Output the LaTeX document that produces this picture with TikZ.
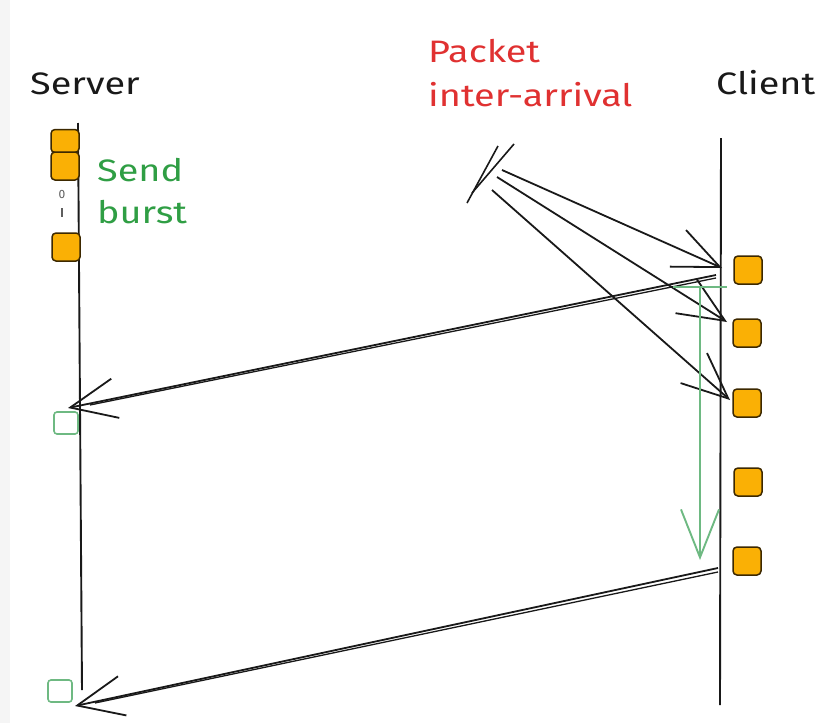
\documentclass[tikz,border=0pt]{standalone}
\usepackage{fontspec}
\setmainfont{Fira Sans}
\usetikzlibrary{arrows.meta}
\definecolor{ink}{RGB}{25,25,25}
\definecolor{boxorange}{RGB}{250,176,5}
\definecolor{boxedge}{RGB}{60,40,0}
\definecolor{labred}{RGB}{224,49,49}
\definecolor{labgreen}{RGB}{47,158,68}
\definecolor{lightgreen}{RGB}{110,185,130}
\tikzset{
  obox/.style={draw=boxedge, fill=boxorange, line width=1.5pt, rounded corners=4pt, minimum width=28pt, minimum height=28pt, inner sep=0pt},
  gbox/.style={draw=lightgreen, line width=1.6pt, rounded corners=3pt, minimum width=24pt, minimum height=22pt, inner sep=0pt},
  lifeline/.style={draw=ink, line width=1.9pt},
  msg/.style={draw=ink, line width=1.8pt, -{Straight Barb[length=46pt,width=40pt]}},
  tick/.style={draw=ink, line width=1.6pt},
  title/.style={font=\fontsize{31}{34}\selectfont, xscale=1.22, text=ink, anchor=base west, inner sep=0pt},
  lab/.style={font=\fontsize{31}{34}\selectfont, xscale=1.22, anchor=base west, inner sep=0pt},
}
\begin{document}
\begin{tikzpicture}[x=1pt,y=-1pt]
\useasboundingbox (0,0) rectangle (823,723);
\fill[white] (0,0) rectangle (823,723);
\fill[black!4] (0,0) rectangle (10,723);

% titles
\node[title] (server) at (30,94) {Server};
\node[title] (client) at (716,94) {Client};
\node[lab, text=labred] (packet) at (428,62) {Packet};
\node[lab, text=labred] (inter) at (428,106) {inter-arrival};
\node[lab, text=labgreen] (send) at (97,181) {Send};
\node[lab, text=labgreen] (burst) at (97,223) {burst};

% lifelines
\coordinate (stop) at (78,123);
\coordinate (sbot) at (82,690);
\coordinate (ctop) at (721,138);
\coordinate (cbot) at (720,705);
\path[lifeline] (stop) -- (sbot);
\path[lifeline] (ctop) -- (cbot);

% server boxes
\node[obox, minimum height=23pt] (s1) at (65,141) {};
\node[obox] (s2) at (65,166) {};
\node[obox] (s3) at (66,247) {};
\node[font=\fontsize{12}{12}\selectfont, text=ink!70, inner sep=0pt] (dots) at (62,194) {0};
\coordinate (bar1) at (62,208);
\coordinate (bar2) at (62,217);
\draw[ink!70, line width=1.5pt] (bar1) -- (bar2);

% client boxes
\node[obox] (c1) at (748,270) {};
\node[obox] (c2) at (747,333) {};
\node[obox] (c3) at (747,403) {};
\node[obox] (c4) at (748,482) {};
\node[obox] (c5) at (747,561) {};

% green ack boxes at server
\node[gbox] (a1) at (66,423) {};
\node[gbox] (a2) at (60,691) {};

% packet inter-arrival arrows
\coordinate (p1) at (502,170);
\coordinate (p2) at (497,177);
\coordinate (p3) at (492,190);
\coordinate (t1) at (722,268);
\coordinate (t2) at (727,322);
\coordinate (t3) at (730,400);
\path[msg] (p1) -- (t1);
\path[msg] (p2) -- (t2);
\path[msg] (p3) -- (t3);
\coordinate (k1a) at (467,203);
\coordinate (k1b) at (498,146);
\coordinate (k2a) at (472,193);
\coordinate (k2b) at (514,144);
\path[tick] (k1a) -- (k1b);
\path[tick] (k2a) -- (k2b);

% return arrows
\coordinate (r1s) at (716,275);
\coordinate (r1e) at (68,408);
\coordinate (r1s2) at (716,278);
\coordinate (r1e2) at (90,405);
\path[msg] (r1s) -- (r1e);
\draw[ink, line width=1.3pt] (r1s2) -- (r1e2);
\coordinate (r2s) at (718,568);
\coordinate (r2e) at (75,706);
\coordinate (r2s2) at (718,572);
\coordinate (r2e2) at (95,703);
\path[msg] (r2s) -- (r2e);
\draw[ink, line width=1.3pt] (r2s2) -- (r2e2);

% green interval arrow
\coordinate (gl) at (673,287);
\coordinate (gr) at (727,287);
\coordinate (gtop) at (700,287);
\coordinate (gbot) at (700,560);
\draw[lightgreen, line width=1.9pt] (gl) -- (gr);
\draw[lightgreen, line width=1.9pt, -{Straight Barb[length=48pt,width=38pt]}] (gtop) -- (gbot);
\end{tikzpicture}
\end{document}
